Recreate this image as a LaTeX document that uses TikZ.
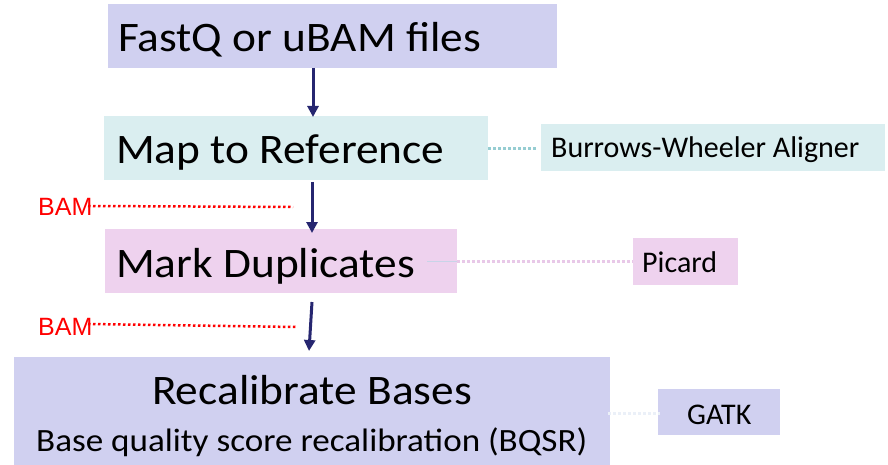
\documentclass[tikz,border=0pt]{standalone}
\usepackage{fontspec}
\setmainfont{Carlito}
\newfontfamily\widefont[FakeStretch=1.08]{Carlito}
\newfontfamily\arialfont{Liberation Sans}
\usetikzlibrary{arrows.meta}
\definecolor{lav}{RGB}{208,208,240}
\definecolor{cyanbg}{RGB}{218,238,240}
\definecolor{pinkbg}{RGB}{238,210,238}
\definecolor{navy}{RGB}{38,38,112}
\definecolor{teal}{RGB}{150,205,210}
\definecolor{pinkline}{RGB}{232,200,232}
\definecolor{paleline}{RGB}{235,240,248}
\definecolor{faintblue}{RGB}{200,212,232}
\tikzset{
  flowarrow/.style={draw=navy, line width=3pt, -{Triangle[length=11pt,width=11pt]}},
  bamlabel/.style={text=red, font=\arialfont\fontsize{25}{25}\selectfont, inner sep=0pt},
  bamline/.style={draw=red, line width=2.5pt, dash pattern=on 2.5pt off 2.5pt},
  bigtext/.style={font=\widefont\fontsize{42}{42}\selectfont, inner sep=0pt},
  tooltext/.style={font=\fontsize{30}{30}\selectfont, inner sep=0pt},
  toolline/.style={line width=3pt, dash pattern=on 3pt off 2pt},
}
\begin{document}
\begin{tikzpicture}[x=1pt,y=-1pt]
\useasboundingbox (0,0) rectangle (888,465);
% main boxes
\fill[lav] (108,4) rectangle (557,68);
\node[bigtext, anchor=base west] (fq) at (118,52) {FastQ or uBAM files};
\coordinate (fqb) at (313,68);
\fill[cyanbg] (104,116) rectangle (488,180);
\node[bigtext, anchor=base west] (map) at (116,164) {Map to Reference};
\coordinate (mapt) at (313,117);
\coordinate (mapb) at (312,182);
\coordinate (mapr) at (488,149);
\fill[pinkbg] (105,229) rectangle (457,293);
\node[bigtext, anchor=base west] (md) at (116,277) {Mark Duplicates};
\coordinate (mdt) at (312,233);
\coordinate (mdb) at (312,302);
\coordinate (mdr) at (427,261);
\coordinate (mdedge) at (457,261);
\fill[lav] (14,357) rectangle (610,470);
\node[bigtext, anchor=base] (rb) at (312,404) {Recalibrate Bases};
\node[font=\widefont\fontsize{32.5}{32.5}\selectfont, inner sep=0pt, anchor=base west] (bq) at (36,451) {Base quality score recalibration (BQSR)};
\coordinate (rbt) at (309,351);
\coordinate (rbr) at (608,413);
% tool boxes
\fill[cyanbg] (541,124) rectangle (885,171);
\node[tooltext, anchor=base west] (bwa) at (551,158) {Burrows-Wheeler Aligner};
\coordinate (bwal) at (537,149);
\fill[pinkbg] (633,238) rectangle (738,285);
\node[tooltext, anchor=base west] (pic) at (642,272) {Picard};
\coordinate (picl) at (633,261);
\fill[lav] (658,389) rectangle (780,435);
\node[tooltext, anchor=base west] (gatk) at (687,424) {GATK};
\coordinate (gatkl) at (660,413);
% arrows
\draw[flowarrow] (fqb) -- (mapt);
\draw[flowarrow] (mapb) -- (mdt);
\draw[flowarrow] (mdb) -- (rbt);
% dotted tool connectors
\draw[teal, toolline] (mapr) -- (bwal);
\draw[faintblue, line width=1pt] (mdr) -- (mdedge);
\draw[pinkline, toolline] (mdedge) -- (picl);
\draw[paleline, toolline] (rbr) -- (gatkl);
% BAM labels
\node[bamlabel, anchor=base west] (bam1) at (38,215) {BAM};
\coordinate (bam1s) at (88,206);
\coordinate (bam1e) at (293,207);
\draw[bamline] (bam1s) -- (bam1e);
\node[bamlabel, anchor=base west] (bam2) at (38,335) {BAM};
\coordinate (bam2s) at (88,324);
\coordinate (bam2e) at (296,327);
\draw[bamline] (bam2s) -- (bam2e);
\end{tikzpicture}
\end{document}
